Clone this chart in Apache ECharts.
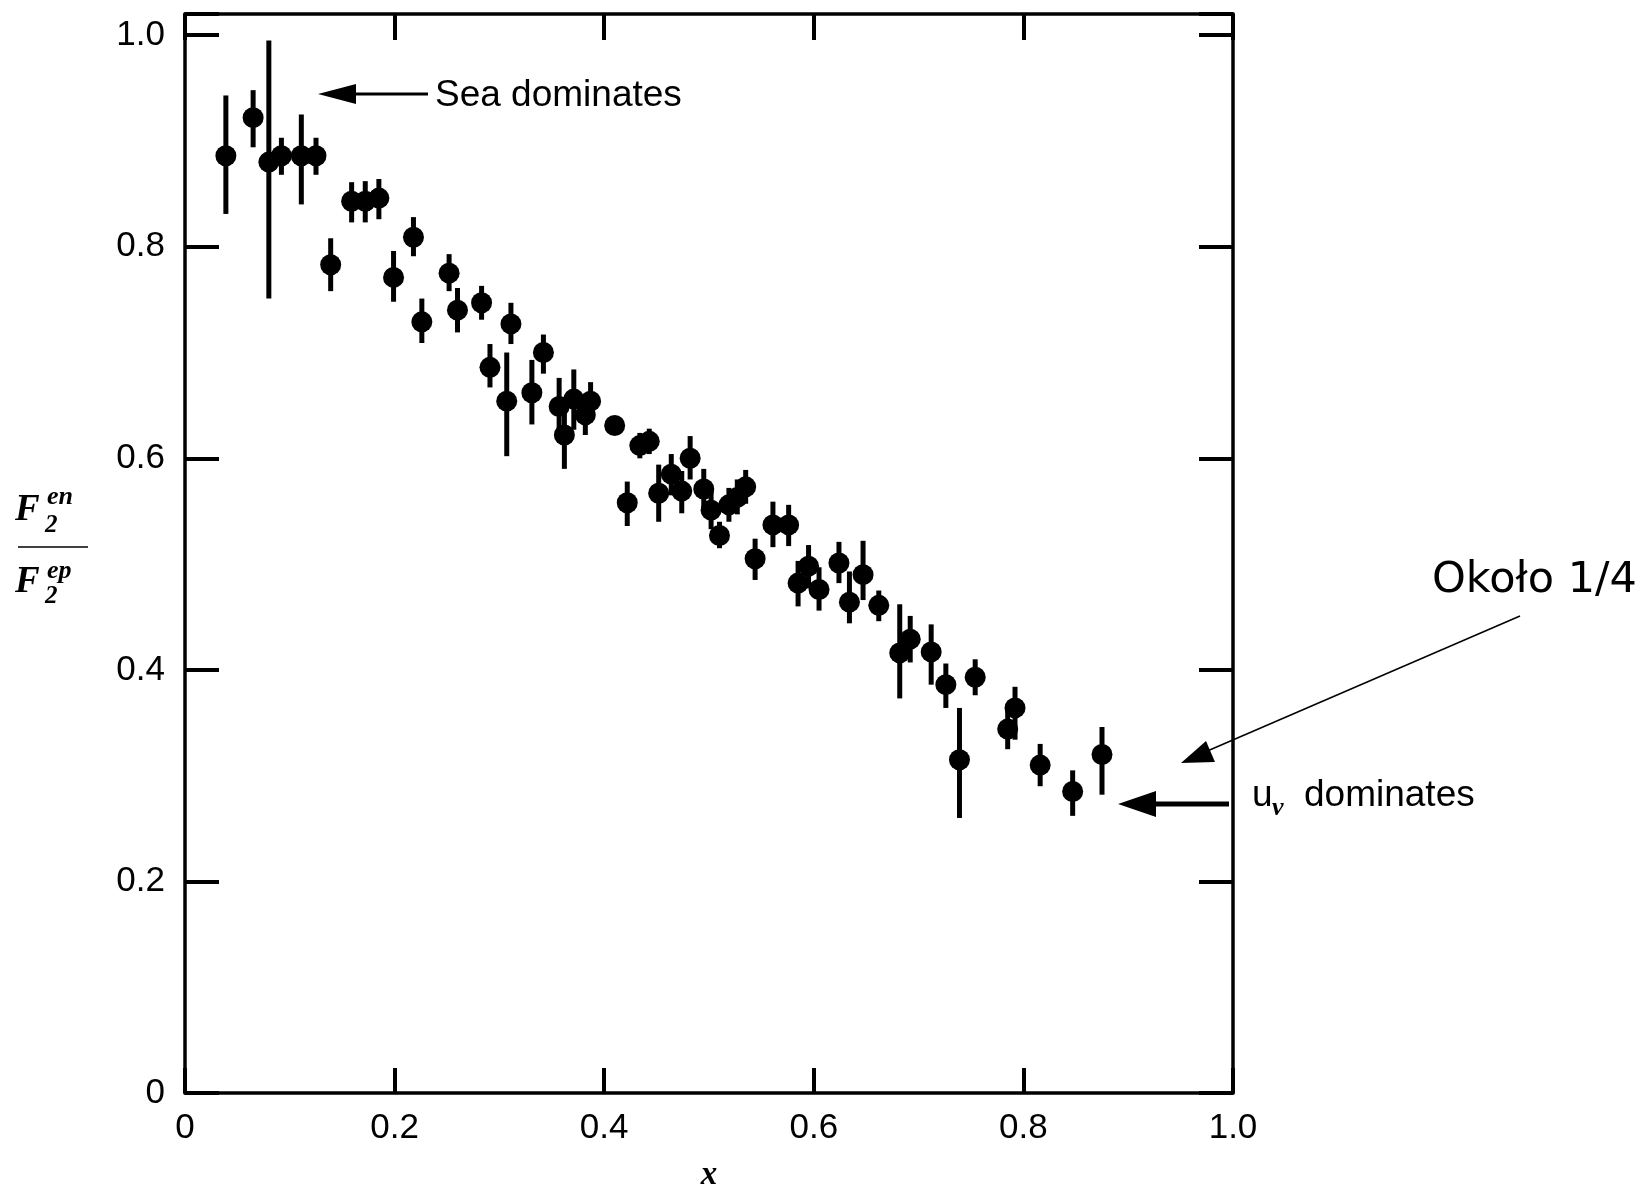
<!DOCTYPE html>
<html>
<head>
<meta charset="utf-8">
<script src="https://cdn.jsdelivr.net/npm/echarts@6/dist/echarts.min.js"></script>
<style>
  html, body { margin: 0; padding: 0; background: #fff; }
  #main { width: 1645px; height: 1190px; }
</style>
</head>
<body>
<div id="main"></div>
<script>
// F2en / F2ep ratio vs x
const xValues = [0.039, 0.065, 0.080, 0.092, 0.111, 0.125, 0.139, 0.159, 0.172, 0.185,
  0.199, 0.218, 0.226, 0.252, 0.260, 0.283, 0.291, 0.311, 0.307, 0.331,
  0.342, 0.357, 0.362, 0.371, 0.382, 0.387, 0.410, 0.434, 0.443, 0.422,
  0.452, 0.464, 0.474, 0.482, 0.495, 0.502, 0.510, 0.519, 0.527, 0.535,
  0.544, 0.561, 0.576, 0.585, 0.595, 0.605, 0.624, 0.634, 0.647, 0.662,
  0.682, 0.692, 0.712, 0.726, 0.739, 0.754, 0.785, 0.792, 0.816, 0.847, 0.875];
const yValues = [0.886, 0.922, 0.880, 0.886, 0.886, 0.886, 0.783, 0.843, 0.843, 0.846,
  0.771, 0.809, 0.729, 0.775, 0.740, 0.747, 0.686, 0.727, 0.654, 0.662,
  0.700, 0.649, 0.622, 0.656, 0.641, 0.654, 0.631, 0.612, 0.616, 0.558,
  0.567, 0.585, 0.569, 0.600, 0.571, 0.551, 0.527, 0.556, 0.563, 0.573,
  0.505, 0.537, 0.537, 0.482, 0.498, 0.476, 0.501, 0.464, 0.490, 0.461,
  0.416, 0.429, 0.417, 0.386, 0.315, 0.393, 0.344, 0.364, 0.310, 0.285, 0.320];
const yLow = [0.831, 0.894, 0.751, 0.868, 0.840, 0.868, 0.758, 0.823, 0.823, 0.826,
  0.748, 0.791, 0.709, 0.758, 0.719, 0.731, 0.667, 0.708, 0.602, 0.632,
  0.680, 0.622, 0.590, 0.627, 0.622, 0.636, 0.622, 0.600, 0.604, 0.536,
  0.540, 0.565, 0.548, 0.580, 0.553, 0.533, 0.515, 0.540, 0.547, 0.557,
  0.485, 0.516, 0.517, 0.460, 0.477, 0.456, 0.482, 0.444, 0.466, 0.446,
  0.373, 0.407, 0.386, 0.364, 0.260, 0.376, 0.325, 0.334, 0.290, 0.262, 0.282];
const yHigh = [0.943, 0.948, 0.995, 0.903, 0.925, 0.903, 0.808, 0.861, 0.862, 0.864,
  0.796, 0.828, 0.751, 0.793, 0.761, 0.763, 0.708, 0.747, 0.700, 0.693,
  0.717, 0.676, 0.645, 0.684, 0.660, 0.672, 0.640, 0.624, 0.628, 0.578,
  0.594, 0.604, 0.588, 0.621, 0.590, 0.570, 0.540, 0.572, 0.580, 0.589,
  0.524, 0.559, 0.556, 0.503, 0.518, 0.497, 0.521, 0.493, 0.522, 0.475,
  0.462, 0.451, 0.443, 0.406, 0.364, 0.410, 0.364, 0.384, 0.330, 0.305, 0.346];

const labelFont = 'Liberation Sans, Arial, sans-serif';
const serifFont = 'Liberation Serif, Times New Roman, serif';
const fmt = v => {
  if (Math.abs(v / 0.2 - Math.round(v / 0.2)) > 1e-6) return '';
  return v === 0 ? '0' : v.toFixed(1);
};
const frameLine = { show: true, onZero: false, lineStyle: { color: '#000', width: 3.5 } };

// small helper for the annotation texts (centred vertically on y)
const txt = (x, y, text, font) => ({
  type: 'text', x, y,
  style: { text, font, fill: '#000', align: 'left', verticalAlign: 'middle' }
});

const chart = echarts.init(document.getElementById('main'));
chart.setOption({
  backgroundColor: '#fff',
  animation: false,
  grid: { left: 185, right: 412, top: 14, bottom: 97, containLabel: false, outerBoundsMode: 'none' },
  xAxis: [
    {
      type: 'value', min: 0, max: 1, interval: 0.2, position: 'bottom',
      name: 'x', nameLocation: 'middle', nameGap: 66,
      nameTextStyle: { fontFamily: serifFont, fontStyle: 'italic', fontWeight: 'bold', fontSize: 33, color: '#000' },
      axisLine: frameLine,
      axisTick: { inside: true, length: 25, lineStyle: { color: '#000', width: 4 } },
      axisLabel: { formatter: fmt, margin: 18, fontFamily: labelFont, fontSize: 35, color: '#000' },
      splitLine: { show: false }
    },
    {
      type: 'value', min: 0, max: 1, interval: 0.2, position: 'top',
      axisLine: frameLine,
      axisTick: { inside: true, length: 26, lineStyle: { color: '#000', width: 4 } },
      axisLabel: { show: false },
      splitLine: { show: false }
    }
  ],
  yAxis: [
    {
      type: 'value', min: 0, max: 1.02, interval: 0.2, position: 'left',
      axisLine: frameLine,
      axisTick: { inside: true, length: 34, lineStyle: { color: '#000', width: 4 } },
      axisLabel: { formatter: fmt, margin: 20, fontFamily: labelFont, fontSize: 35, color: '#000' },
      splitLine: { show: false }
    },
    {
      type: 'value', min: 0, max: 1.02, interval: 0.2, position: 'right',
      axisLine: frameLine,
      axisTick: { inside: true, length: 34, lineStyle: { color: '#000', width: 4 } },
      axisLabel: { show: false },
      splitLine: { show: false }
    }
  ],
  series: [
    {
      type: 'custom',
      name: 'errors',
      data: xValues.map((x, i) => [x, yLow[i], yHigh[i]]),
      encode: { x: 0, y: [1, 2] },
      renderItem(params, api) {
        const a = api.coord([api.value(0), api.value(1)]);
        const b = api.coord([api.value(0), api.value(2)]);
        return {
          type: 'line',
          shape: { x1: a[0], y1: a[1], x2: b[0], y2: b[1] },
          style: { stroke: '#000', lineWidth: 5 }
        };
      },
      z: 2
    },
    {
      type: 'scatter',
      name: 'ratio',
      data: xValues.map((x, i) => [x, yValues[i]]),
      symbol: 'circle',
      symbolSize: 21,
      itemStyle: { color: '#000', opacity: 1 },
      z: 3
    }
  ],
  graphic: [
    // y axis title: F2^en / F2^ep
    txt(15, 510, 'F', 'italic bold 37px ' + serifFont),
    txt(47, 497, 'en', 'italic bold 26px ' + serifFont),
    txt(45, 526, '2', 'italic bold 25px ' + serifFont),
    { type: 'line', shape: { x1: 18, y1: 547, x2: 88, y2: 547 }, style: { stroke: '#000', lineWidth: 1.5 } },
    txt(15, 582, 'F', 'italic bold 37px ' + serifFont),
    txt(47, 571, 'ep', 'italic bold 26px ' + serifFont),
    txt(45, 597, '2', 'italic bold 25px ' + serifFont),

    // "Sea dominates" arrow
    { type: 'line', shape: { x1: 350, y1: 94, x2: 428, y2: 94 }, style: { stroke: '#000', lineWidth: 3 } },
    { type: 'polygon', shape: { points: [[318, 94], [356, 84], [356, 104]] }, style: { fill: '#000' } },
    { type: 'text', left: 435, top: 77, style: { text: 'Sea dominates', font: '37px ' + labelFont, fill: '#000' } },

    // "u_v dominates" arrow
    { type: 'line', shape: { x1: 1150, y1: 804, x2: 1229, y2: 804 }, style: { stroke: '#000', lineWidth: 5 } },
    { type: 'polygon', shape: { points: [[1118, 804], [1156, 791], [1156, 817]] }, style: { fill: '#000' } },
    { type: 'text', left: 1252, top: 777, style: { text: 'u', font: '37px ' + labelFont, fill: '#000' } },
    txt(1272, 808, 'v', 'italic bold 26px ' + serifFont),
    { type: 'text', left: 1304, top: 777, style: { text: 'dominates', font: '37px ' + labelFont, fill: '#000' } },

    // "Około 1/4" pointer
    { type: 'line', shape: { x1: 1520, y1: 616, x2: 1205, y2: 752 }, style: { stroke: '#000', lineWidth: 1.5 } },
    { type: 'polygon', shape: { points: [[1181, 763], [1206, 741], [1215, 762]] }, style: { fill: '#000' } },
    { type: 'text', left: 1432, top: 559, style: { text: 'Około 1/4', font: '43px DejaVu Sans, Verdana, sans-serif', fill: '#000' } }
  ]
});
</script>
</body>
</html>
